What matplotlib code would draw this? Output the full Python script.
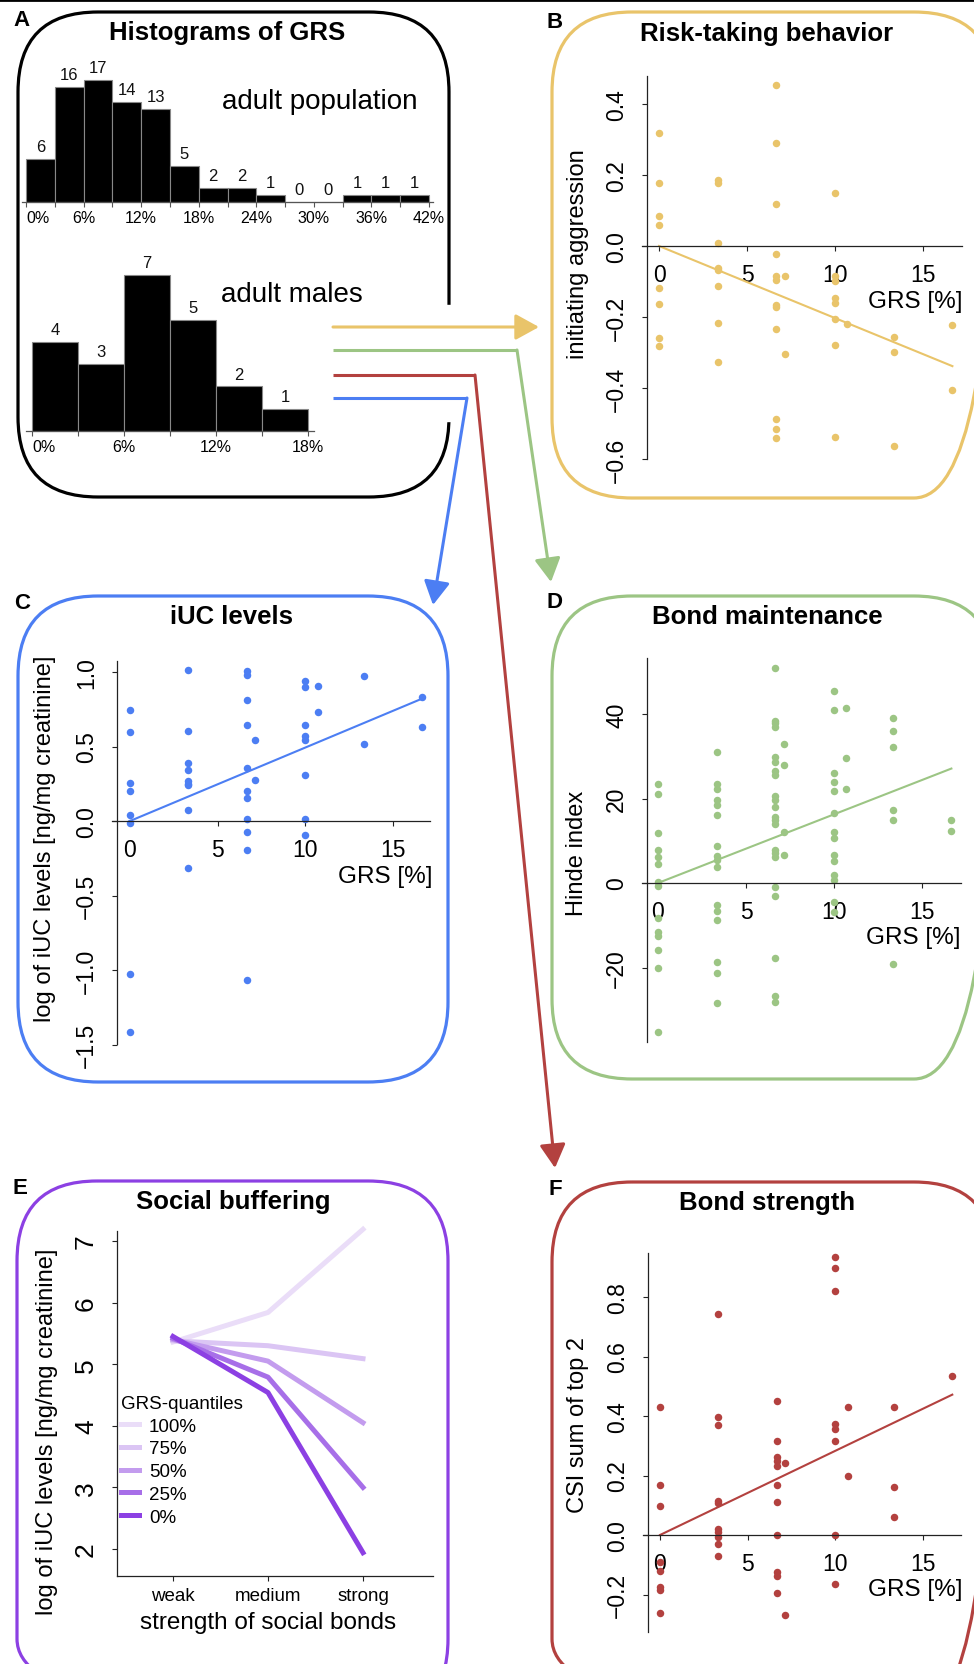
import numpy as np
import matplotlib
matplotlib.use("Agg")
import matplotlib.pyplot as plt
from matplotlib.patches import FancyBboxPatch, Rectangle
from matplotlib.lines import Line2D

# ---- data ----
pop_bins = [0, 3, 6, 9, 12, 15, 18, 21, 24, 27, 30, 33, 36, 39, 42]
pop_counts = [6, 16, 17, 14, 13, 5, 2, 2, 1, 0, 0, 1, 1, 1]
male_bins = [0, 3, 6, 9, 12, 15, 18]
male_counts = [4, 3, 7, 5, 2, 1]

# GRS value of each male column (%)
grs_levels = [0, 3.33, 6.67, 7.14, 10, 10.71, 13.33, 16.67]

# B: initiating aggression, one list per GRS level
b_vals = [
    [0.319, 0.177, 0.085, 0.059, -0.117, -0.162, -0.258, -0.282],
    [0.185, 0.177, 0.009, -0.061, -0.069, -0.113, -0.216, -0.327],
    [0.454, 0.289, 0.119, -0.023, -0.085, -0.097, -0.166, -0.171, -0.235, -0.486, -0.515, -0.542],
    [-0.085, -0.304],
    [0.150, -0.085, -0.099, -0.146, -0.160, -0.207, -0.278, -0.538],
    [-0.221],
    [-0.256, -0.300, -0.564],
    [-0.223, -0.407],
]
b_slope = -0.0203

# C: log iUC levels
c_vals = [
    [0.743, 0.597, 0.255, 0.199, 0.043, -0.011, -1.029, -1.416],
    [1.011, 0.606, 0.391, 0.340, 0.266, 0.245, 0.239, 0.072, -0.313],
    [1.007, 0.982, 0.810, 0.647, 0.358, 0.199, 0.157, 0.016, -0.074, -0.197, -1.065],
    [0.541, 0.273],
    [0.937, 0.899, 0.647, 0.568, 0.541, 0.306, 0.016, -0.096],
    [0.904, 0.732],
    [0.971, 0.519],
    [0.832, 0.631],
]
c_slope = 0.0493

# D: Hinde index
d_vals = [
    [23.4, 21.1, 11.8, 7.8, 6.1, 4.4, 0.2, -0.8, -8.2, -11.7, -12.5, -15.8, -20.0, -35.2],
    [30.9, 23.5, 22.3, 19.6, 18.4, 16.2, 8.7, 6.3, 5.5, 3.9, -5.2, -6.6, -8.7, -18.6, -21.2, -28.3],
    [50.8, 38.3, 37.8, 37.0, 29.8, 28.7, 26.4, 25.5, 20.7, 19.6, 18.0, 15.6, 14.8, 14.0,
     7.9, 7.1, 6.1, -1.0, -3.0, -17.7, -26.8, -28.2],
    [32.9, 27.9, 12.0, 6.7],
    [45.4, 40.9, 26.1, 23.9, 21.8, 16.6, 12.0, 10.7, 6.7, 5.1, 1.9, 0.7, -4.6, -6.8],
    [41.5, 29.7, 22.2],
    [39.1, 35.9, 32.3, 17.3, 15.0, -19.2],
    [15.0, 12.4],
]
d_slope = 1.625

# F: CSI sum of top 2
f_vals = [
    [0.429, 0.169, 0.099, -0.092, -0.120, -0.174, -0.185, -0.263],
    [0.743, 0.396, 0.371, 0.113, 0.108, 0.020, 0.009, -0.008, -0.030, -0.072],
    [0.449, 0.317, 0.263, 0.248, 0.233, 0.169, 0.112, 0.0, -0.125, -0.137, -0.195],
    [0.241, -0.269],
    [0.936, 0.896, 0.821, 0.373, 0.356, 0.315, 0.0, -0.165],
    [0.429, 0.199],
    [0.429, 0.160, 0.062],
    [0.533],
]
f_slope = 0.0283

# E: social buffering, iUC at weak / medium / strong bonds
bond_levels = ["weak", "medium", "strong"]
quantile_names = ["100%", "75%", "50%", "25%", "0%"]
e_lines = [
    [5.36, 5.84, 7.19],
    [5.38, 5.30, 5.09],
    [5.40, 5.05, 4.05],
    [5.42, 4.79, 3.00],
    [5.45, 4.54, 1.94],
]

YELLOW = "#E9C46A"
GREEN = "#9CC584"
RED = "#B3413F"
BLUE = "#4C7EF3"
PURPLE = "#8C40E3"
e_colors = ["#EADDF8", "#DBC5F4", "#C39CEE", "#A76FE8", "#8C40E3"]
AXC = "#222222"

W, H = 974, 1665
plt.rcParams["font.family"] = ["Liberation Sans", "DejaVu Sans"]
fig = plt.figure(figsize=(W / 100, H / 100), dpi=100)

# background axes in pixel units for boxes, arrows and free text
bg = fig.add_axes([0, 0, 1, 1])
bg.set_xlim(0, W)
bg.set_ylim(H, 0)
bg.axis("off")


def pv(a, p):
    # pixel -> data value along an axis given two reference points
    return a[0] + (p - a[1]) * (a[2] - a[0]) / (a[3] - a[1])


def px_axes(left, right, top, bottom, xa, ya):
    ax = fig.add_axes([left / W, 1 - bottom / H, (right - left) / W, (bottom - top) / H])
    ax.set_xlim(pv(xa, left), pv(xa, right))
    ax.set_ylim(pv(ya, bottom), pv(ya, top))
    ax.patch.set_alpha(0)
    return ax


def box(x0, x1, y0, y1, color):
    bg.add_patch(FancyBboxPatch((x0, y0), x1 - x0, y1 - y0,
                                boxstyle="round,pad=0,rounding_size=80",
                                fill=False, ec=color, lw=2.3))


def title(x, y, s):
    bg.text(x, y, s, ha="center", va="center", fontsize=18.5, fontweight="bold")


def letter(x, y, s):
    bg.text(x, y, s, ha="center", va="center", fontsize=16, fontweight="bold")


# ---- frames ----
bg.plot([0, W], [1, 1], color="black", lw=2)
box(18, 449, 13, 498, "black")
bg.add_patch(Rectangle((440, 306), 20, 116, color="white", zorder=3))
box(552, 994, 13, 499, YELLOW)
box(18, 448, 597, 1083, BLUE)
box(552, 994, 597, 1080, GREEN)
box(17, 448, 1182, 1720, PURPLE)
box(552, 994, 1183, 1720, RED)

for x, y, s in [(22, 20, "A"), (555, 23, "B"), (22, 604, "C"),
                (555, 603, "D"), (20, 1189, "E"), (555, 1190, "F")]:
    letter(x, y, s)

title(227, 33, "Histograms of GRS")
title(767, 34, "Risk-taking behavior")
title(232, 617, "iUC levels")
title(767, 617, "Bond maintenance")
title(233, 1202, "Social buffering")
title(767, 1203, "Bond strength")

# ---- arrows ----
def arrow(pts, color):
    xs = [p[0] for p in pts]
    ys = [p[1] for p in pts]
    bg.plot(xs[:-1], ys[:-1], color=color, lw=2.2, solid_capstyle="butt", zorder=4)
    bg.annotate("", xy=pts[-1], xytext=pts[-2], zorder=4,
                arrowprops=dict(arrowstyle="-|>,head_length=0.4,head_width=0.22",
                                mutation_scale=36, color=color, lw=2.2,
                                shrinkA=0, shrinkB=0))

arrow([(333, 328), (539, 328)], YELLOW)
arrow([(333, 351), (517, 351), (551, 583)], GREEN)
arrow([(333, 376), (475, 376), (555, 1169)], RED)
arrow([(333, 399), (467, 399), (433, 606)], BLUE)


# ---- A: histograms ----
def hist_panel(boxpx, xa, ya, bins, counts, labels):
    ax = px_axes(*boxpx, xa, ya)
    ax.bar(bins[:-1], counts, width=3, align="edge", color="black",
           edgecolor="#888888", lw=0.8)
    for x0, c in zip(bins[:-1], counts):
        ax.annotate(str(c), (x0 + 1.5, c), xytext=(0, 3.5), textcoords="offset points",
                    ha="center", va="bottom", fontsize=12, color="#111111")
    for s in ["top", "right", "left"]:
        ax.spines[s].set_visible(False)
    ax.spines["bottom"].set_position(("data", 0))
    ax.spines["bottom"].set_bounds(bins[0] - 0.4, bins[-1] + 0.4)
    ax.spines["bottom"].set_color("#555555")
    ax.spines["bottom"].set_linewidth(0.9)
    ax.set_yticks([])
    ax.set_xticks(bins)
    ax.set_xticklabels(labels)
    ax.tick_params(axis="x", length=3.5, width=0.8, color="#555555", labelsize=11.5, pad=2)
    ax.get_xticklabels()[0].set_ha("left")
    return ax


pop_labels = ["0%", "", "6%", "", "12%", "", "18%", "", "24%", "", "30%", "", "36%", "", "42%"]
male_labels = ["0%", "", "6%", "", "12%", "", "18%"]
hist_panel((20, 440, 60, 235), (0, 26, 42, 429), (0, 203, 17, 81), pop_bins, pop_counts, pop_labels)
hist_panel((20, 330, 250, 465), (0, 32, 18, 308), (0, 432, 7, 276), male_bins, male_counts, male_labels)
bg.text(320, 102, "adult population", ha="center", va="center", fontsize=20)
bg.text(292, 295, "adult males", ha="center", va="center", fontsize=20)


# ---- GRS scatter panels ----
def grs_panel(boxpx, xa, ya, vals, slope, color, yticks, ylabels, ylabel,
              yspine_x, yspan, xspan, ylab_xy, grs_xy):
    ax = px_axes(*boxpx, xa, ya)
    xs = np.concatenate([[g] * len(v) for g, v in zip(grs_levels, vals)])
    ys = np.concatenate(vals)
    xl = np.array([grs_levels[0], grs_levels[-1]])
    ax.plot(xl, slope * xl, color=color, lw=1.5, clip_on=False)
    ax.plot(xs, ys, "o", ms=5.4, color=color, mec="none", clip_on=False)
    for s in ["top", "right"]:
        ax.spines[s].set_visible(False)
    ax.spines["left"].set_position(("data", pv(xa, yspine_x)))
    ax.spines["left"].set_bounds(pv(ya, yspan[1]), pv(ya, yspan[0]))
    ax.spines["bottom"].set_position(("data", 0))
    ax.spines["bottom"].set_bounds(pv(xa, xspan[0]), pv(xa, xspan[1]))
    for s in ["left", "bottom"]:
        ax.spines[s].set_color(AXC)
        ax.spines[s].set_linewidth(0.9)
    ax.set_xticks([0, 5, 10, 15])
    ax.set_yticks(yticks)
    ax.set_yticklabels(ylabels, rotation=90, va="center")
    ax.tick_params(axis="both", length=3.6, width=0.8, color=AXC, labelsize=16.5)
    ax.tick_params(axis="y", pad=10)
    ax.tick_params(axis="x", pad=9)
    bg.text(ylab_xy[0], ylab_xy[1], ylabel, rotation=90, ha="center", va="center", fontsize=17)
    bg.text(grs_xy[0], grs_xy[1], "GRS [%]", ha="right", va="center", fontsize=17.5)
    return ax


grs_panel((600, 972, 60, 480), (0, 659, 15, 923), (0, 247, 0.4, 105), b_vals, b_slope, YELLOW,
          [-0.6, -0.4, -0.2, 0, 0.2, 0.4],
          ["\u22120.6", "\u22120.4", "\u22120.2", "0.0", "0.2", "0.4"],
          "initiating aggression", 647, (77, 460), (642, 962), (578, 254), (962, 302))

grs_panel((70, 445, 640, 1060), (0, 130, 15, 393), (0, 822, 1.0, 673), c_vals, c_slope, BLUE,
          [-1.5, -1.0, -0.5, 0, 0.5, 1.0],
          ["\u22121.5", "\u22121.0", "\u22120.5", "0.0", "0.5", "1.0"],
          "log of iUC levels [ng/mg creatinine]", 117, (662, 1045), (112, 430), (45, 839), (432, 877))

grs_panel((600, 972, 640, 1060), (0, 658, 15, 922), (0, 884, 40, 715), d_vals, d_slope, GREEN,
          [-20, 0, 20, 40], ["\u221220", "0", "20", "40"],
          "Hinde index", 647, (659, 1043), (642, 961), (577, 853), (961, 938))

grs_panel((600, 972, 1240, 1650), (0, 660, 15, 923), (0, 1536, 0.8, 1298), f_vals, f_slope, RED,
          [-0.2, 0, 0.2, 0.4, 0.6, 0.8],
          ["\u22120.2", "0.0", "0.2", "0.4", "0.6", "0.8"],
          "CSI sum of top 2", 648, (1254, 1633), (643, 961), (578, 1425), (962, 1590))

# ---- E: social buffering ----
axe = px_axes(117, 433, 1232, 1577, (1, 173, 3, 363), (2, 1550, 7, 1242))
bond_x = [1, 2, 3]
for vals, col in zip(e_lines, e_colors):
    axe.plot(bond_x, vals, color=col, lw=3.6, clip_on=False)
for s in ["top", "right"]:
    axe.spines[s].set_visible(False)
for s in ["left", "bottom"]:
    axe.spines[s].set_color(AXC)
    axe.spines[s].set_linewidth(0.9)
axe.set_xticks(bond_x)
axe.set_xticklabels(bond_levels)
axe.set_yticks([2, 3, 4, 5, 6, 7])
axe.set_yticklabels(["2", "3", "4", "5", "6", "7"], rotation=90, va="center")
axe.tick_params(axis="both", length=3.6, width=0.8, color=AXC)
axe.tick_params(axis="x", labelsize=13.5, pad=4)
axe.tick_params(axis="y", labelsize=19, pad=10)
handles = [Line2D([], [], color=c, lw=3.6) for c in e_colors]
axe.legend(handles, quantile_names, title="GRS-quantiles", loc="upper left",
           bbox_to_anchor=(121 / W, 1 - 1396 / H), bbox_transform=fig.transFigure,
           frameon=False, fontsize=13.5, title_fontsize=13.5, handlelength=0.95,
           handletextpad=0.55, labelspacing=0.3, borderpad=0, borderaxespad=0,
           alignment="left")
bg.text(47, 1432, "log of iUC levels [ng/mg creatinine]", rotation=90,
        ha="center", va="center", fontsize=17)
bg.text(268, 1623, "strength of social bonds", ha="center", va="center", fontsize=17.5)

fig.savefig("out.png", dpi=100)
